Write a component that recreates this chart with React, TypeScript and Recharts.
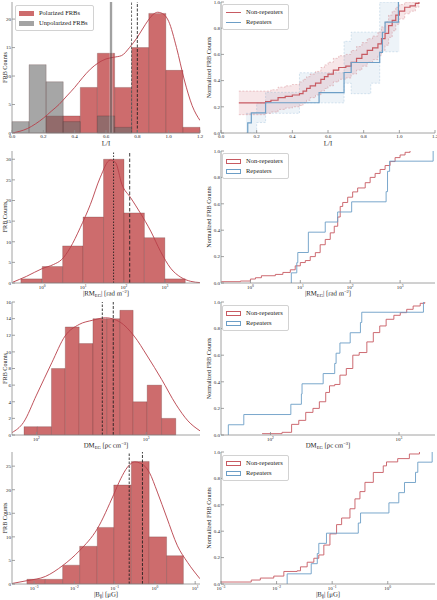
import React from "react"
import { ComposedChart, Line, Area, XAxis, YAxis, ReferenceArea, ReferenceLine, Legend } from "recharts"

const FONT = "'Liberation Serif', 'DejaVu Serif', serif"
const FRAME = "#8c8c8c"
const INK = "#222222"
const HIST_RED = "#cd6c6d"
const HIST_EDGE = "#4a2020"
const GREY = "#6a6a6a"
const KDE_RED = "#b8404a"
const CDF_RED = "#c75a62"
const CDF_BLUE = "#6c9ec6"

// ---- L/I (row 1)
const liPolEdges = [0.218, 0.327, 0.436, 0.545, 0.655, 0.764, 0.873, 0.982, 1.091, 1.2]
const liPolCounts = [3, 3, 8, 14, 8, 15, 21, 11, 1]
const liUnpolEdges = [0, 0.109, 0.218, 0.327, 0.436, 0.545, 0.655, 0.764]
const liUnpolCounts = [2, 12, 9, 2, 0, 3, 1]
const liKdeX = [0, 0.05, 0.1, 0.15, 0.2, 0.25, 0.3, 0.35, 0.4, 0.45, 0.5, 0.55, 0.6, 0.65, 0.7, 0.75, 0.8, 0.85, 0.9, 0.93, 0.97, 1.0, 1.05, 1.1, 1.15, 1.2]
const liKdeY = [0, 0.3, 0.8, 1.6, 2.6, 3.8, 5.0, 6.5, 8.0, 9.7, 11.2, 12.3, 13.0, 13.3, 13.6, 15.0, 16.8, 19.0, 20.8, 21.2, 20.8, 19.6, 15.0, 9.3, 4.8, 2.2]
const liMedian = 0.632
const liMedianBand = [0.62, 0.645]
const liMeans = [0.763, 0.8]

const liNonRepX = [0.1, 0.25, 0.28, 0.32, 0.36, 0.4, 0.44, 0.46, 0.48, 0.5, 0.53, 0.56, 0.58, 0.6, 0.63, 0.66, 0.7, 0.73, 0.76, 0.79, 0.82, 0.85, 0.88, 0.9, 0.92, 0.94, 0.96, 0.98, 1.0, 1.03, 1.06, 1.09, 1.11]
const liNonRepY = [0.23, 0.24, 0.25, 0.27, 0.28, 0.29, 0.3, 0.32, 0.34, 0.36, 0.38, 0.41, 0.43, 0.45, 0.48, 0.5, 0.51, 0.54, 0.57, 0.6, 0.63, 0.65, 0.68, 0.72, 0.76, 0.82, 0.86, 0.9, 0.93, 0.96, 0.97, 0.99, 1.0]
const liNonRepHi = [0.32, 0.32, 0.33, 0.35, 0.36, 0.37, 0.39, 0.41, 0.43, 0.45, 0.47, 0.5, 0.52, 0.54, 0.57, 0.59, 0.6, 0.63, 0.66, 0.69, 0.72, 0.74, 0.77, 0.81, 0.85, 0.9, 0.93, 0.96, 0.98, 1.0, 1.0, 1.0, 1.0]
const liNonRepLo = [0.14, 0.15, 0.16, 0.18, 0.19, 0.2, 0.21, 0.23, 0.25, 0.27, 0.29, 0.32, 0.34, 0.36, 0.39, 0.41, 0.42, 0.45, 0.48, 0.51, 0.54, 0.56, 0.59, 0.63, 0.67, 0.73, 0.78, 0.83, 0.87, 0.91, 0.93, 0.96, 0.98]
const liRepX = [0.15, 0.15, 0.17, 0.25, 0.55, 0.69, 0.73, 0.89, 0.905, 0.92, 0.995]
const liRepY = [0, 0.077, 0.154, 0.231, 0.308, 0.462, 0.538, 0.615, 0.769, 0.846, 1.0]
const liRepBandX = [0.14, 0.2, 0.25, 0.44, 0.55, 0.69, 0.73, 0.84, 0.89, 1.0]
const liRepBandHi = [0.15, 0.23, 0.31, 0.46, 0.46, 0.7, 0.77, 0.77, 1.0, 1.0]
const liRepBandLo = [0.0, 0.08, 0.15, 0.23, 0.23, 0.38, 0.3, 0.38, 0.62, 0.62]

// ---- |RM_EG| (row 2)
const rmEdges = [0.3, 1, 3.16, 10, 31.6, 100, 316, 1000, 3160]
const rmCounts = [1, 4, 9, 16, 30, 17, 11, 1]
const rmKdeX = [0.19, 0.41, 1, 1.9, 3.0, 4.8, 8.5, 15, 26, 46, 62, 89, 145, 250, 450, 780, 1380, 2450, 4300, 7200]
const rmKdeY = [0.2, 1.6, 3.5, 4.5, 5.7, 8.5, 13.4, 19, 25.5, 29.8, 29.2, 23.9, 20.7, 17, 12.6, 7.7, 3.6, 1.4, 0.4, 0.1]
const rmLines = [55.6, 138]
const rmNonRepX = [0.26, 0.63, 1, 1.26, 1.66, 3.16, 4.47, 6.3, 7.9, 10, 12.6, 15.8, 20, 25, 31.6, 39.8, 47.9, 56.2, 63, 70.8, 89, 112, 141, 200, 251, 316, 398, 501, 631, 794, 1000, 1259, 1585]
const rmNonRepY = [0.01, 0.015, 0.03, 0.04, 0.055, 0.065, 0.08, 0.1, 0.13, 0.155, 0.17, 0.2, 0.23, 0.29, 0.33, 0.38, 0.43, 0.5, 0.58, 0.61, 0.65, 0.69, 0.72, 0.76, 0.8, 0.83, 0.86, 0.89, 0.92, 0.95, 0.97, 0.99, 1.0]
const rmRepX = [6.6, 6.6, 8.5, 8.9, 14.5, 31.6, 56, 107, 525, 560, 617, 4600]
const rmRepY = [0, 0.077, 0.154, 0.231, 0.385, 0.462, 0.538, 0.615, 0.692, 0.846, 0.923, 1.0]

// ---- DM_EG (row 3)
const dmEdges = [77, 102, 137, 183, 245, 327, 437, 575, 760, 1020, 1380, 1860]
const dmCounts = [1, 1, 8, 13, 11, 14, 14, 15, 4, 6, 2]
const dmKdeX = [60, 76, 100, 138, 182, 245, 324, 427, 575, 776, 1023, 1380, 1862, 2399, 3090]
const dmKdeY = [0.3, 1.5, 4.8, 8.7, 11.9, 13.3, 13.8, 14.1, 13.6, 11.9, 9.5, 6.7, 3.7, 1.7, 0.5]
const dmLines = [398, 501]
const dmNonRepX = [86, 123, 146, 166, 188, 214, 240, 269, 288, 316, 347, 389, 437, 490, 562, 631, 708, 794, 912, 1023, 1148, 1288, 1462, 1585]
const dmNonRepY = [0.01, 0.02, 0.08, 0.11, 0.17, 0.2, 0.25, 0.32, 0.37, 0.38, 0.45, 0.5, 0.6, 0.62, 0.7, 0.77, 0.82, 0.87, 0.9, 0.92, 0.945, 0.97, 0.99, 1.0]
const dmRepX = [47, 47, 62, 144, 174, 176, 257, 316, 324, 347, 417, 501, 513, 1549]
const dmRepY = [0, 0.077, 0.154, 0.231, 0.308, 0.385, 0.462, 0.538, 0.615, 0.692, 0.769, 0.846, 0.923, 1.0]

// ---- |B| (row 4)
const bEdges = [0.00066, 0.0019, 0.0051, 0.0135, 0.037, 0.095, 0.26, 0.72, 1.95, 5.1]
const bCounts = [1, 1, 4, 8, 12, 21, 26, 10, 6]
const bKdeX = [0.00028, 0.00066, 0.0019, 0.0051, 0.0135, 0.037, 0.095, 0.141, 0.209, 0.316, 0.447, 0.724, 1.15, 1.95, 3.63, 6.46, 13.2]
const bKdeY = [0.1, 0.7, 1.6, 3.9, 7.1, 11.7, 19, 22.3, 24.8, 25.9, 25.6, 23.7, 19.5, 14.2, 8.1, 4.6, 1.1]
const bLines = [0.23, 0.49]
const bNonRepX = [0.001, 0.0035, 0.0051, 0.0089, 0.0135, 0.0234, 0.0269, 0.0355, 0.0468, 0.0575, 0.0708, 0.0912, 0.12, 0.148, 0.209, 0.257, 0.316, 0.389, 0.55, 0.83, 0.95, 1.51, 2.45, 3.72]
const bNonRepY = [0.015, 0.03, 0.045, 0.06, 0.095, 0.1, 0.13, 0.165, 0.195, 0.22, 0.295, 0.38, 0.45, 0.5, 0.57, 0.645, 0.7, 0.77, 0.845, 0.895, 0.925, 0.95, 0.985, 1.0]
const bRepX = [0.0155, 0.0155, 0.042, 0.054, 0.0575, 0.079, 0.295, 0.324, 1.05, 1.58, 2.0, 3.16, 3.47, 6.3]
const bRepY = [0, 0.077, 0.154, 0.231, 0.308, 0.385, 0.462, 0.538, 0.615, 0.692, 0.769, 0.846, 0.923, 1.0]

const cdfTicks = [0, 0.2, 0.4, 0.6, 0.8, 1.0]

type Seg = [string, "n" | "sub" | "sup"]

const lg = (v: number) => Math.log10(v)
const pts = (xs: number[], ys: number[], log: boolean) => xs.map((x, i) => ({ x: log ? lg(x) : x, y: ys[i] }))

function bins(edges: number[], counts: number[], log: boolean) {
  const e = edges.map((v) => (log ? lg(v) : v))
  return counts.map((c, i) => ({ x1: e[i], x2: e[i + 1], y: c }))
}

function tspans(segs: Seg[]) {
  let shift = 0
  return segs.map(([t, k], i) => {
    const target = k === "sub" ? 1.6 : k === "sup" ? -2.6 : 0
    const dy = target - shift
    shift = target
    return (
      <tspan key={i} dy={dy} fontSize={k === "n" ? 6.8 : 4.6}>
        {t}
      </tspan>
    )
  })
}

const txt = { fontFamily: FONT, fill: INK, stroke: "none", fontWeight: 400 as const }

// a hair of rotation keeps the title on grayscale antialiasing (no colour fringes)
const xTitle = (segs: Seg[]) => (p: any) => {
  const vb = p.viewBox
  const cx = vb.x + vb.width / 2
  const cy = vb.y + 12.5
  return (
    <text x={cx} y={cy} transform={`rotate(0.05 ${cx} ${cy})`} textAnchor="middle" {...txt}>
      {tspans(segs)}
    </text>
  )
}

const yTitle = (text: string, dx: number) => (p: any) => {
  const vb = p.viewBox
  const cx = vb.x + dx
  const cy = vb.y + vb.height / 2
  return (
    <text x={cx} y={cy} transform={`rotate(-90 ${cx} ${cy})`} textAnchor="middle" dominantBaseline="central"
      fontSize={6.2} {...txt}>
      {text}
    </text>
  )
}

const linXTick = (p: any) => (
  <text x={p.x} y={p.y + 4} textAnchor="middle" fontSize={5} {...txt}>
    {Number(p.payload.value).toFixed(1)}
  </text>
)

const logXTick = (p: any) => {
  const v = Math.round(p.payload.value)
  return (
    <text x={p.x} y={p.y + 4.5} textAnchor="middle" fontSize={5} {...txt}>
      <tspan>10</tspan>
      <tspan dy={-2} fontSize={3.6}>{v < 0 ? "\u2212" + -v : String(v)}</tspan>
    </text>
  )
}

const yTick = (digits: boolean) => (p: any) => (
  <text x={p.x} y={p.y + 1.8} textAnchor="end" fontSize={5} {...txt}>
    {digits ? Number(p.payload.value).toFixed(1) : p.payload.value}
  </text>
)

const noTick = () => <g />

type Item = { label: string; kind: "fill" | "line" | "outline"; color: string }

function LegendBox({ items }: { items: Item[] }) {
  return (
    <div style={{ background: "rgba(255,255,255,0.92)", border: "0.8px solid #d2d2d2", borderRadius: 2, padding: "2px 5px 2px 3px",
      fontFamily: FONT, fontSize: 6.5, color: INK, lineHeight: "10px", whiteSpace: "nowrap" }}>
      {items.map((it) => (
        <div key={it.label} style={{ display: "flex", alignItems: "center" }}>
          <span style={{ display: "inline-block", width: 15, marginRight: 5,
            height: it.kind === "line" ? 0 : 5,
            background: it.kind === "fill" ? it.color : "transparent",
            border: it.kind === "outline" ? `0.9px solid ${it.color}` : "none",
            borderTop: it.kind === "line" ? `1.3px solid ${it.color}` : it.kind === "outline" ? `0.9px solid ${it.color}` : "none",
            boxSizing: "border-box" }} />
          {it.label}
        </div>
      ))}
    </div>
  )
}

const legendOf = (items: Item[], left: number, top: number) => (
  <Legend key="legend" layout="vertical" align="center" verticalAlign="middle"
    wrapperStyle={{ left, top, width: "auto", height: "auto" }} content={() => <LegendBox items={items} />} />
)

const histAreas = (id: string, b: { x1: number; x2: number; y: number }[], fill: string, opacity: number) =>
  b.filter((d) => d.y > 0).map((d, i) => (
    <ReferenceArea key={id + i} x1={d.x1} x2={d.x2} y1={0} y2={d.y} fill={fill} fillOpacity={opacity}
      stroke={HIST_EDGE} strokeOpacity={0.45} strokeWidth={0.5} ifOverflow="visible" />
  ))

const vline = (key: string, x: number, dash?: string, color = "#1e1e1e") => (
  <ReferenceLine key={key} x={x} stroke={color} strokeWidth={0.85} strokeDasharray={dash} ifOverflow="visible" />
)

const kdeLine = (data: { x: number; y: number }[]) => (
  <Line key="kde" data={data} dataKey="y" type="monotone" stroke={KDE_RED} strokeWidth={0.9} dot={false}
    activeDot={false} isAnimationActive={false} />
)

const cdfLine = (key: string, data: { x: number; y: number }[], color: string, w: number) => (
  <Line key={key} data={data} dataKey="y" type="stepAfter" stroke={color} strokeWidth={w} dot={false}
    activeDot={false} isAnimationActive={false} />
)

const LEFT = { left: 0, width: 205, axisW: 12, mr: 5, titleDx: 4 }
const RIGHT = { left: 203, width: 234, axisW: 18, mr: 2, titleDx: 5.5 }
const ROWS = [{ top: 0, h: 149 }, { top: 149, h: 150 }, { top: 300, h: 151 }, { top: 450, h: 150 }]

type PanelProps = {
  col: typeof LEFT
  row: { top: number; h: number }
  xDomain: number[]
  xTicks: number[]
  logX: boolean
  yDomain: number[]
  yTicks: number[]
  yDigits: boolean
  xLabel: Seg[]
  yLabel: string
  items: React.ReactNode[]
}

function Panel({ col, row, xDomain, xTicks, logX, yDomain, yTicks, yDigits, xLabel, yLabel, items }: PanelProps) {
  return (
    <div style={{ position: "absolute", left: col.left, top: row.top }}>
      <ComposedChart width={col.width} height={row.h} margin={{ top: 2, right: col.mr, bottom: 0, left: 0 }}>
        <XAxis xAxisId={0} type="number" dataKey="x" domain={xDomain} ticks={xTicks} allowDataOverflow interval={0}
          height={16} stroke={FRAME} strokeWidth={0.8} tickSize={-3} tickMargin={4}
          tick={logX ? logXTick : linXTick} label={xTitle(xLabel)} />
        <XAxis xAxisId="top" orientation="top" type="number" dataKey="x" domain={xDomain} ticks={xTicks}
          allowDataOverflow interval={0} height={0} stroke={FRAME} strokeWidth={0.8} tickSize={-3} tick={noTick} />
        <YAxis yAxisId={0} type="number" domain={yDomain} ticks={yTicks} allowDataOverflow interval={0}
          width={col.axisW} stroke={FRAME} strokeWidth={0.8} tickSize={-3} tickMargin={4} tick={yTick(yDigits)}
          label={yTitle(yLabel, col.titleDx)} />
        <YAxis yAxisId="right" orientation="right" type="number" domain={yDomain} ticks={yTicks} allowDataOverflow
          interval={0} width={0} stroke={FRAME} strokeWidth={0.8} tickSize={-3} tick={noTick} />
        {items}
      </ComposedChart>
    </div>
  )
}

const cdfLegend = (kind: "line" | "outline", top: number) =>
  legendOf([
    { label: "Non-repeaters", kind, color: CDF_RED },
    { label: "Repeaters", kind, color: CDF_BLUE },
  ], 19, top)

const liNonBand = liNonRepX.map((x, i) => ({ x, band: [liNonRepLo[i], liNonRepHi[i]], lo: liNonRepLo[i], hi: liNonRepHi[i] }))
const liRepBand = liRepBandX.map((x, i) => ({ x, band: [liRepBandLo[i], liRepBandHi[i]], lo: liRepBandLo[i], hi: liRepBandHi[i] }))

const bandItems = (id: string, data: any[], color: string, opacity: number, edge: number) => [
  <Area key={id + "a"} data={data} dataKey="band" type="stepAfter" fill={color} fillOpacity={opacity} stroke="none"
    isAnimationActive={false} activeDot={false} />,
  <Line key={id + "h"} data={data} dataKey="hi" type="stepAfter" stroke={color} strokeWidth={0.5} strokeDasharray="2 1.5"
    strokeOpacity={edge} dot={false} activeDot={false} isAnimationActive={false} />,
  <Line key={id + "l"} data={data} dataKey="lo" type="stepAfter" stroke={color} strokeWidth={0.5} strokeDasharray="2 1.5"
    strokeOpacity={edge} dot={false} activeDot={false} isAnimationActive={false} />,
]

export default function App() {
  return (
    <div style={{ position: "absolute", left: 0, top: 0, width: 437, height: 600, background: "#fff", overflow: "hidden" }}>
      {/* row 1: L/I */}
      <Panel col={LEFT} row={ROWS[0]} xDomain={[0, 1.2]} xTicks={[0, 0.2, 0.4, 0.6, 0.8, 1.0, 1.2]} logX={false}
        yDomain={[0, 23]} yTicks={[0, 5, 10, 15, 20]} yDigits={false} xLabel={[["L/I", "n"]]} yLabel="FRB Counts"
        items={[
          ...histAreas("p", bins(liPolEdges, liPolCounts, false), HIST_RED, 1),
          ...histAreas("u", bins(liUnpolEdges, liUnpolCounts, false), GREY, 0.6),
          <ReferenceArea key="mb" x1={liMedianBand[0]} x2={liMedianBand[1]} fill="#cfcfcf" fillOpacity={0.35}
            stroke="none" ifOverflow="visible" />,
          kdeLine(pts(liKdeX, liKdeY, false)),
          vline("m0", liMedian, undefined, "#3a3a3a"),
          vline("m1", liMeans[0], "2.5 1.5", "#555"),
          vline("m2", liMeans[1], "3 1.5"),
          legendOf([
            { label: "Polarized FRBs", kind: "fill", color: HIST_RED },
            { label: "Unpolarized FRBs", kind: "fill", color: "#a3a3a3" },
          ], 15, 5),
        ]} />
      <Panel col={RIGHT} row={ROWS[0]} xDomain={[0, 1.2]} xTicks={[0, 0.2, 0.4, 0.6, 0.8, 1.0, 1.2]} logX={false}
        yDomain={[0, 1]} yTicks={cdfTicks} yDigits xLabel={[["L/I", "n"]]} yLabel="Normalized FRB Counts"
        items={[
          ...bandItems("rb", liRepBand, CDF_BLUE, 0.12, 0.5),
          ...bandItems("nb", liNonBand, CDF_RED, 0.15, 0.6),
          cdfLine("non", pts(liNonRepX, liNonRepY, false), CDF_RED, 1.2),
          cdfLine("rep", pts(liRepX, liRepY, false), CDF_BLUE, 1.2),
          cdfLegend("line", 4),
        ]} />

      {/* row 2: |RM_EG| */}
      <Panel col={LEFT} row={ROWS[1]} xDomain={[-0.74, 3.86]} xTicks={[0, 1, 2, 3]} logX
        yDomain={[0, 32]} yTicks={[0, 5, 10, 15, 20, 25, 30]} yDigits={false}
        xLabel={[["|RM", "n"], ["EG", "sub"], ["| [rad m", "n"], ["\u22122", "sup"], ["]", "n"]]} yLabel="FRB Counts"
        items={[
          ...histAreas("h", bins(rmEdges, rmCounts, true), HIST_RED, 1),
          kdeLine(pts(rmKdeX, rmKdeY, true)),
          vline("m1", lg(rmLines[0]), "1.5 1.5"),
          vline("m2", lg(rmLines[1]), "3.5 2"),
        ]} />
      <Panel col={RIGHT} row={ROWS[1]} xDomain={[-0.59, 3.7]} xTicks={[0, 1, 2, 3]} logX
        yDomain={[0, 1]} yTicks={cdfTicks} yDigits
        xLabel={[["|RM", "n"], ["EG", "sub"], ["| [rad m", "n"], ["\u22122", "sup"], ["]", "n"]]} yLabel="Normalized FRB Counts"
        items={[
          cdfLine("non", pts(rmNonRepX, rmNonRepY, true), CDF_RED, 0.9),
          cdfLine("rep", pts(rmRepX, rmRepY, true), CDF_BLUE, 0.9),
          cdfLegend("outline", 4),
        ]} />

      {/* row 3: DM_EG */}
      <Panel col={LEFT} row={ROWS[2]} xDomain={[1.777, 3.49]} xTicks={[2, 3]} logX
        yDomain={[0, 16]} yTicks={[0, 2, 4, 6, 8, 10, 12, 14, 16]} yDigits={false}
        xLabel={[["DM", "n"], ["EG", "sub"], [" [pc cm", "n"], ["\u22123", "sup"], ["]", "n"]]} yLabel="FRB Counts"
        items={[
          ...histAreas("h", bins(dmEdges, dmCounts, true), HIST_RED, 1),
          kdeLine(pts(dmKdeX, dmKdeY, true)),
          vline("m1", lg(dmLines[0]), "2.5 1.5"),
          vline("m2", lg(dmLines[1]), "3 1.5"),
        ]} />
      <Panel col={RIGHT} row={ROWS[2]} xDomain={[1.615, 3.28]} xTicks={[2, 3]} logX
        yDomain={[0, 1]} yTicks={cdfTicks} yDigits
        xLabel={[["DM", "n"], ["EG", "sub"], [" [pc cm", "n"], ["\u22123", "sup"], ["]", "n"]]} yLabel="Normalized FRB Counts"
        items={[
          cdfLine("non", pts(dmNonRepX, dmNonRepY, true), CDF_RED, 0.9),
          cdfLine("rep", pts(dmRepX, dmRepY, true), CDF_BLUE, 0.9),
          cdfLegend("outline", 5),
        ]} />

      {/* row 4: |B| */}
      <Panel col={LEFT} row={ROWS[3]} xDomain={[-3.55, 1.12]} xTicks={[-3, -2, -1, 0, 1]} logX
        yDomain={[0, 28]} yTicks={[0, 5, 10, 15, 20, 25]} yDigits={false}
        xLabel={[["|B", "n"], ["\u2225", "sub"], ["| [\u03bcG]", "n"]]} yLabel="FRB Counts"
        items={[
          ...histAreas("h", bins(bEdges, bCounts, true), HIST_RED, 1),
          kdeLine(pts(bKdeX, bKdeY, true)),
          vline("m1", lg(bLines[0]), "2.5 1.5"),
          vline("m2", lg(bLines[1]), "3 1.5"),
        ]} />
      <Panel col={RIGHT} row={ROWS[3]} xDomain={[-3, 0.85]} xTicks={[-3, -2, -1, 0]} logX
        yDomain={[0, 1]} yTicks={cdfTicks} yDigits
        xLabel={[["|B", "n"], ["\u2225", "sub"], ["| [\u03bcG]", "n"]]} yLabel="Normalized FRB Counts"
        items={[
          cdfLine("non", pts(bNonRepX, bNonRepY, true), CDF_RED, 0.9),
          cdfLine("rep", pts(bRepX, bRepY, true), CDF_BLUE, 0.9),
          cdfLegend("outline", 5),
        ]} />
    </div>
  )
}
